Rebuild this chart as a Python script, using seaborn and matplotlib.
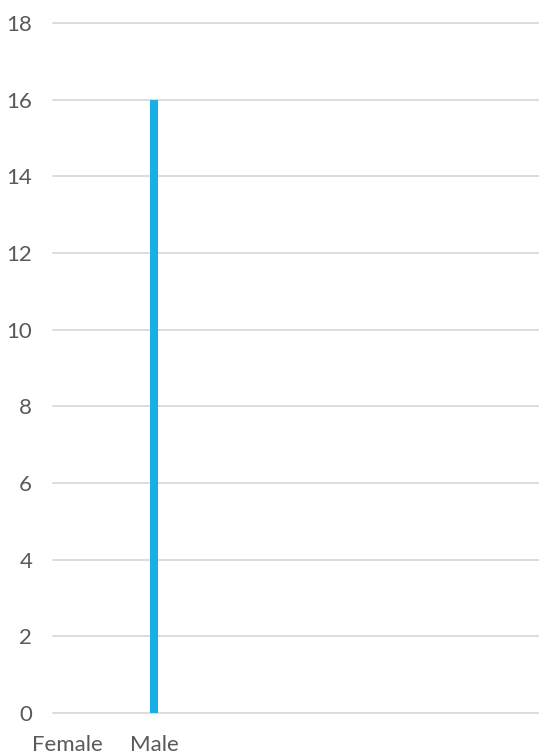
import matplotlib
matplotlib.use("Agg")
import matplotlib.pyplot as plt
import seaborn as sns

genders = ["Female", "Male"]
counts = [0, 16]
yticks = [0, 2, 4, 6, 8, 10, 12, 14, 16, 18]

sns.set_theme(style="white")
plt.rcParams["font.family"] = ["Lato", "DejaVu Sans"]

fig = plt.figure(figsize=(5.39, 7.54), dpi=100)
ax = fig.add_axes([53/539, 41/754, 486/539, 690/754])

sns.barplot(x=genders, y=counts, color="#19AEE6", width=0.1, saturation=1,
            linewidth=0, ax=ax)

ax.set_ylim(0, 18)
ax.set_xlim(-0.161, 5.43)
ax.set_yticks(yticks)
ax.yaxis.grid(True, color="#D9D9D9", linewidth=1.3)
ax.set_axisbelow(True)
for s in ax.spines.values():
    s.set_visible(False)
ax.tick_params(axis="y", length=0, pad=15, labelsize=16, labelcolor="#595959")
ax.tick_params(axis="x", length=0, pad=15.5, labelsize=16, labelcolor="#595959")
ax.set_xlabel("")
ax.set_ylabel("")
for g in ax.get_ygridlines():
    g.set_clip_on(False)

fig.savefig("out.png", dpi=100)
